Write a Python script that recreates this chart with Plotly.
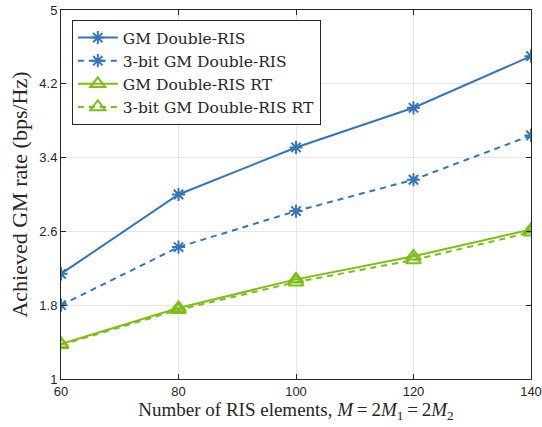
import plotly.graph_objects as go

x_elements = [60, 80, 100, 120, 140]
gm_double = [2.14, 3.00, 3.51, 3.94, 4.50]
gm_double_3bit = [1.80, 2.43, 2.82, 3.16, 3.64]
gm_double_rt = [1.38, 1.77, 2.08, 2.33, 2.62]
gm_double_rt_3bit = [1.37, 1.75, 2.05, 2.29, 2.59]
y_ticks = [1, 1.8, 2.6, 3.4, 4.2, 5]
x_ticks = [60, 80, 100, 120, 140]

blue = "#3576BA"
green = "#7CBF14"

fig = go.Figure()
fig.add_trace(go.Scatter(x=x_elements, y=gm_double, name="GM Double-RIS", mode="lines+markers",
                         line=dict(color=blue, width=2, dash="solid"),
                         marker=dict(symbol="asterisk-open", size=11, line=dict(color=blue, width=2))))
fig.add_trace(go.Scatter(x=x_elements, y=gm_double_3bit, name="3-bit GM Double-RIS", mode="lines+markers",
                         line=dict(color=blue, width=2, dash="6px,5px"),
                         marker=dict(symbol="asterisk-open", size=11, line=dict(color=blue, width=2))))
fig.add_trace(go.Scatter(x=x_elements, y=gm_double_rt, name="GM Double-RIS RT", mode="lines+markers",
                         line=dict(color=green, width=2, dash="solid"),
                         marker=dict(symbol="triangle-up-open", size=13, line=dict(color=green, width=2))))
fig.add_trace(go.Scatter(x=x_elements, y=gm_double_rt_3bit, name="3-bit GM Double-RIS RT", mode="lines+markers",
                         line=dict(color=green, width=2, dash="6px,5px"),
                         marker=dict(symbol="triangle-up-open", size=13, line=dict(color=green, width=2))))

axis_common = dict(showline=True, linecolor="#262626", linewidth=1, mirror="allticks",
                   ticks="inside", ticklen=5, tickcolor="#262626", automargin=False,
                   showgrid=True, gridcolor="#e6e6e6", gridwidth=1, zeroline=False,
                   tickfont=dict(family="Liberation Sans, Arial", size=13, color="#262626"))

fig.update_layout(
    width=542, height=427,
    margin=dict(l=61, r=11, t=10, b=48, autoexpand=False),
    paper_bgcolor="white", plot_bgcolor="white",
    xaxis=dict(range=[60, 140], tickvals=x_ticks, ticktext=[str(v) for v in x_ticks],
               title=dict(text="Number of RIS elements, <i>M</i>\u2009=\u20092<i>M</i><sub>1</sub>\u2009=\u20092<i>M</i><sub>2</sub>",
                          font=dict(family="Liberation Serif, DejaVu Serif", size=19, color="#262626"),
                          standoff=1),
               **axis_common),
    yaxis=dict(range=[1, 5], tickvals=y_ticks, ticktext=[f"{v:g}" for v in y_ticks],
               title=dict(text="Achieved GM rate (bps/Hz)",
                          font=dict(family="Liberation Serif, DejaVu Serif", size=22, color="#262626"),
                          standoff=5),
               **axis_common),
    legend=dict(x=0.023, y=0.973, xanchor="left", yanchor="top",
                bgcolor="white", bordercolor="#262626", borderwidth=1,
                font=dict(family="DejaVu Serif, Liberation Serif", size=15.5, color="#262626"),
                tracegroupgap=0, itemwidth=40),
    showlegend=True,
)

fig.write_html("out.html")
